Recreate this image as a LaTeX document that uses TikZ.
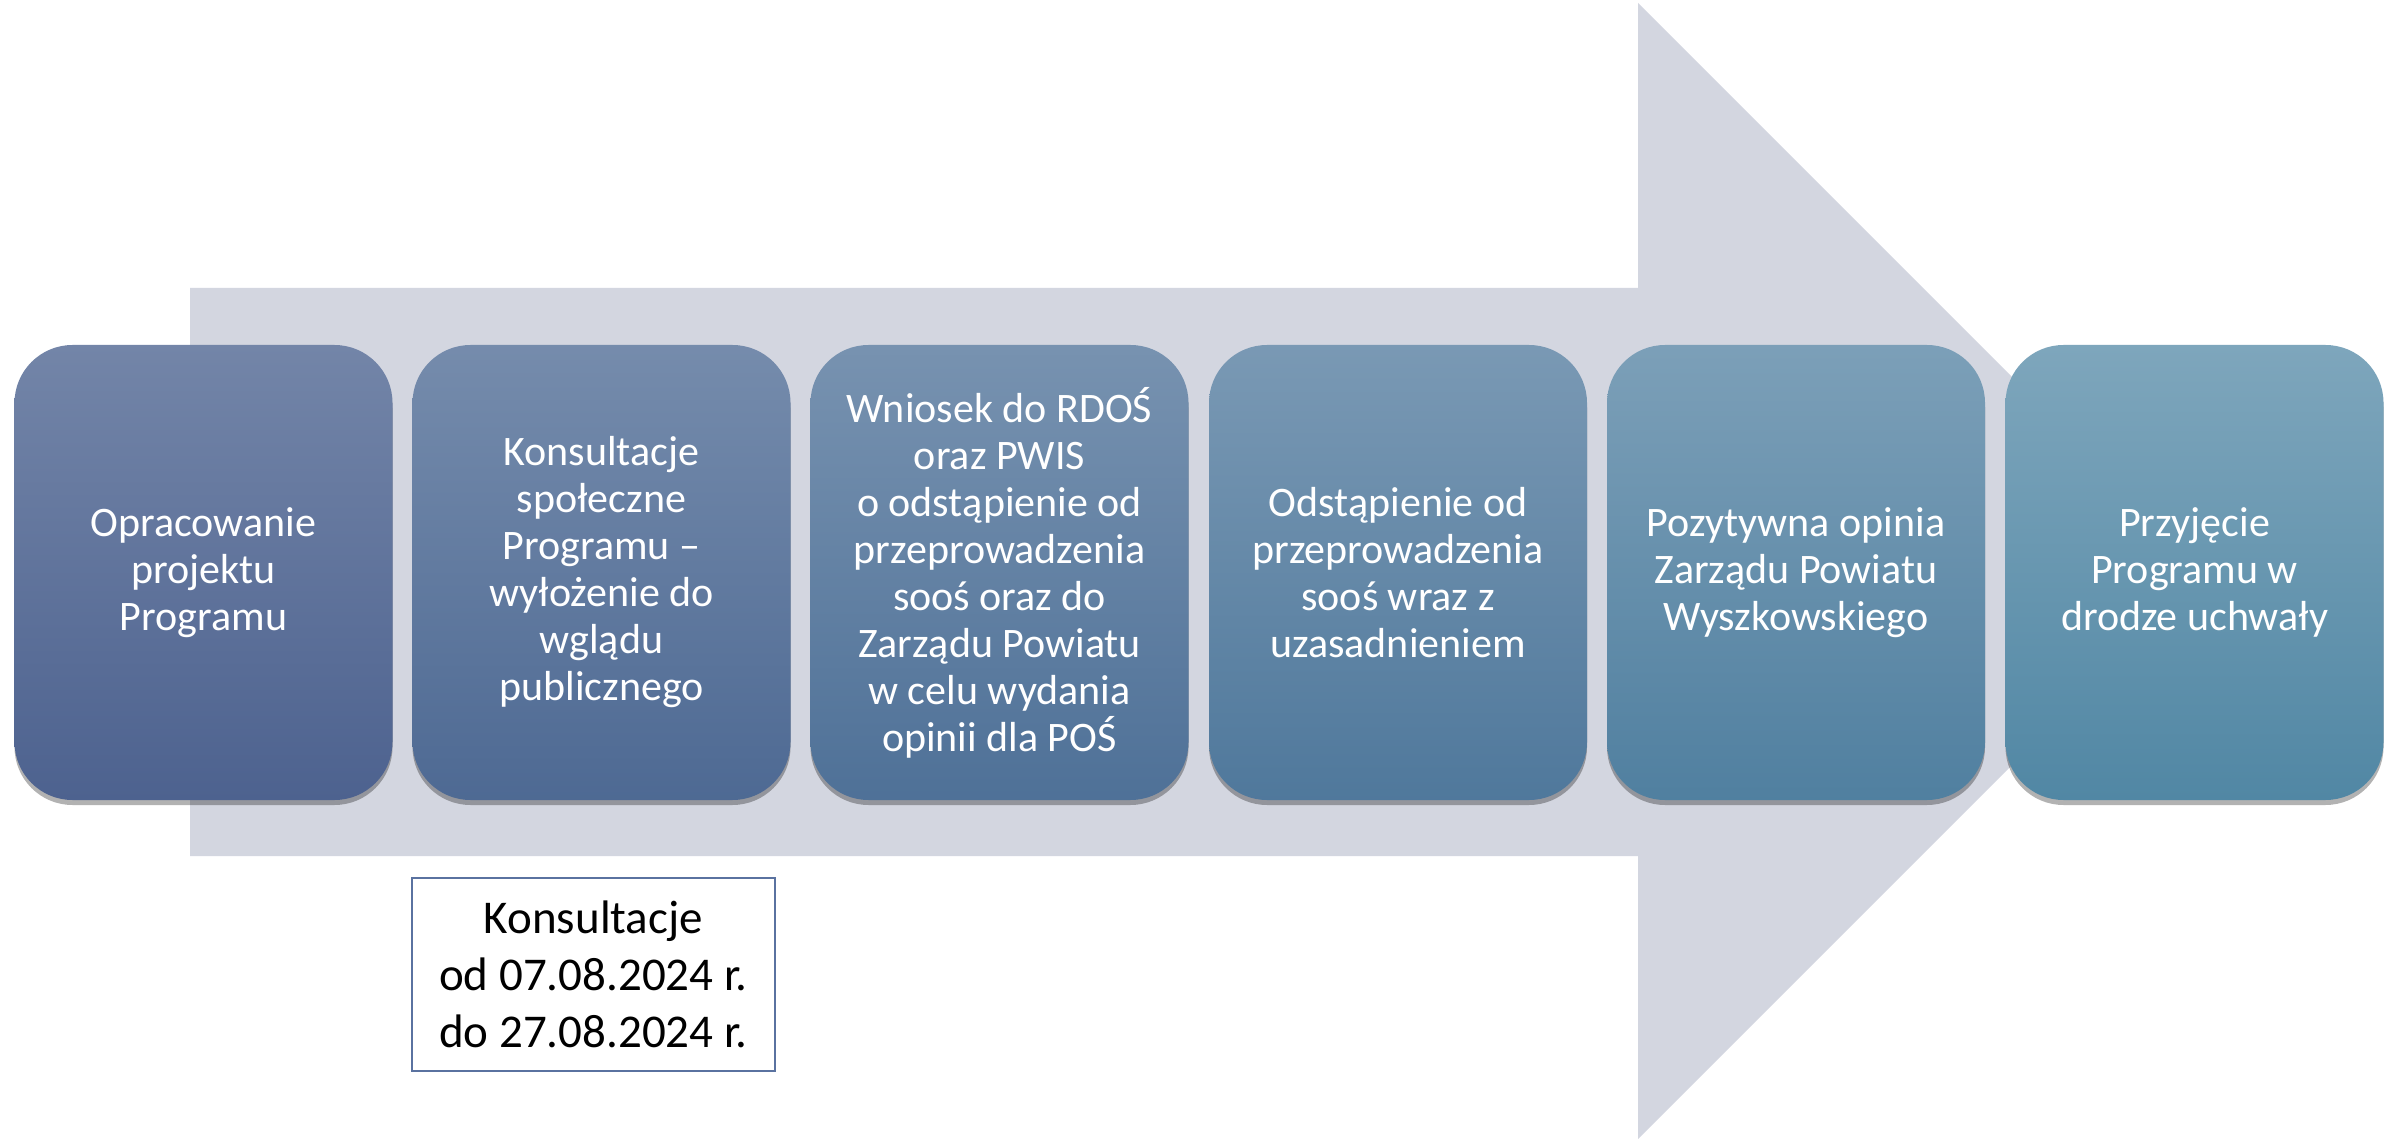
\documentclass[tikz,border=0pt]{standalone}
\usepackage{fontspec}
\setmainfont{Carlito}
\usetikzlibrary{shadows}
\definecolor{arrowc}{RGB}{211,214,224}
\definecolor{aT}{RGB}{115,133,168}
\definecolor{aB}{RGB}{77,98,143}
\definecolor{bT}{RGB}{126,166,188}
\definecolor{bB}{RGB}{81,135,164}
\definecolor{noteborder}{RGB}{90,114,160}
\colorlet{t1}{aT}\colorlet{b1}{aB}
\colorlet{t2}{bT!20!aT}\colorlet{b2}{bB!20!aB}
\colorlet{t3}{bT!40!aT}\colorlet{b3}{bB!40!aB}
\colorlet{t4}{bT!60!aT}\colorlet{b4}{bB!60!aB}
\colorlet{t5}{bT!80!aT}\colorlet{b5}{bB!80!aB}
\colorlet{t6}{bT}\colorlet{b6}{bB}
\tikzset{
  stepbox/.style={rounded corners=58pt, minimum width=378pt, minimum height=455pt,
    inner sep=0pt, text=white, align=center, font=\fontsize{42}{47}\selectfont,
    top color=t#1, bottom color=b#1,
    drop shadow={shadow xshift=0pt, shadow yshift=-5pt, opacity=0.3, fill=black}},
  notebox/.style={draw=noteborder, line width=2.5pt, fill=white, minimum width=363pt,
    minimum height=193pt, inner sep=0pt, align=center, text=black,
    font=\fontsize{47}{57}\selectfont},
  bigarrow/.style={fill=arrowc, draw=none}
}
\begin{document}
\begin{tikzpicture}[x=1pt,y=-1pt]
\useasboundingbox (0,0) rectangle (2402,1139);
\fill[white] (0,0) rectangle (2402,1139);
\fill[bigarrow] (190,288) -- (1638,288) -- (1638,3) -- (2206,571) -- (1638,1139)
  -- (1638,856) -- (190,856) -- cycle;
\node[stepbox=1] (s1) at (203.5,572.5) {Opracowanie\\projektu\\Programu};
\node[stepbox=2] (s2) at (601.5,572.5) {Konsultacje\\społeczne\\Programu –\\wyłożenie do\\wglądu\\publicznego};
\node[stepbox=3] (s3) at (999.5,572.5) {Wniosek do RDOŚ\\oraz PWIS\\o odstąpienie od\\przeprowadzenia\\sooś oraz do\\Zarządu Powiatu\\w celu wydania\\opinii dla POŚ};
\node[stepbox=4] (s4) at (1398,572.5) {Odstąpienie od\\przeprowadzenia\\sooś wraz z\\uzasadnieniem};
\node[stepbox=5] (s5) at (1796,572.5) {Pozytywna opinia\\Zarządu Powiatu\\Wyszkowskiego};
\node[stepbox=6] (s6) at (2194.5,572.5) {Przyjęcie\\Programu w\\drodze uchwały};
\node[notebox] (note) at (593.5,974.5) {Konsultacje\\od 07.08.2024 r.\\do 27.08.2024 r.};
\end{tikzpicture}
\end{document}
